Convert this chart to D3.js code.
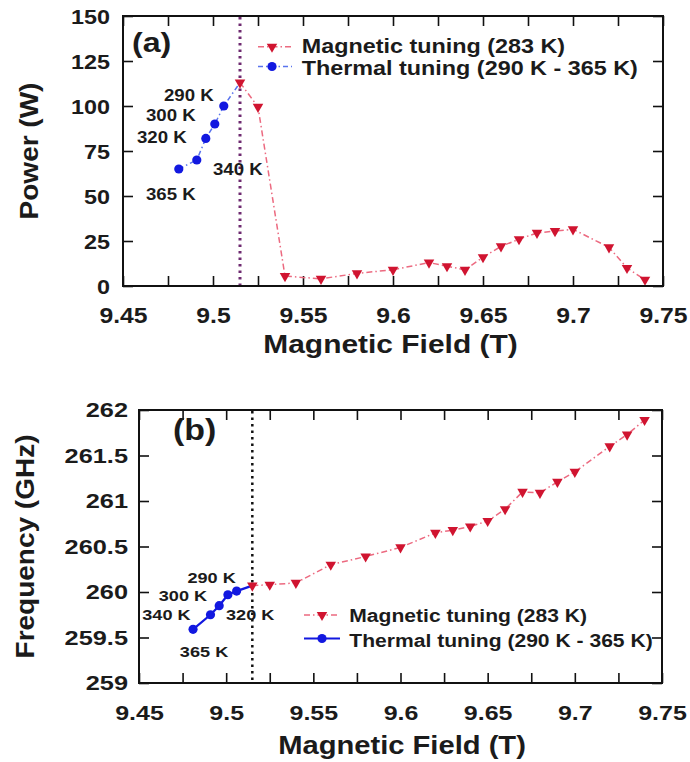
<!DOCTYPE html>
<html><head><meta charset="utf-8">
<script src="https://cdn.jsdelivr.net/npm/d3@7"></script>
<style>body{margin:0;background:#fff}svg{display:block}</style>
</head><body>
<script>
// ---------------- data ----------------
const magField = [9.515, 9.525, 9.54, 9.56, 9.58, 9.60, 9.62, 9.63, 9.64, 9.65, 9.66, 9.67, 9.68, 9.69, 9.70, 9.72, 9.73, 9.74];
const magPower = [113, 99.5, 5.5, 4, 7, 9, 13, 11, 9, 16, 22, 26, 29.5, 30.5, 31.5, 21.5, 10, 3.5];
const magFreq  = [260.07, 260.08, 260.10, 260.30, 260.39, 260.49, 260.65, 260.68, 260.72, 260.78, 260.91, 261.10, 261.09, 261.21, 261.32, 261.60, 261.73, 261.89];
const thermField = [9.481, 9.491, 9.496, 9.501, 9.506];
const thermPower = [65, 70, 82, 90, 100];
const thermFreq  = [259.59, 259.75, 259.85, 259.97, 260.01];
const thermLabels = ["365 K", "340 K", "320 K", "300 K", "290 K"];
const cutoffField = 9.515;
const xTicks = [9.45, 9.5, 9.55, 9.6, 9.65, 9.7, 9.75];
const xTickMarks = [9.45, 9.475, 9.5, 9.525, 9.55, 9.575, 9.6, 9.625, 9.65, 9.675, 9.7, 9.725, 9.75];
const powerTicks = [0, 25, 50, 75, 100, 125, 150];
const freqTicks = [259, 259.5, 260, 260.5, 261, 261.5, 262];
const legendLabels = ["Magnetic tuning (283 K)", "Thermal tuning (290 K - 365 K)"];
const panelLabels = ["(a)", "(b)"];
const xTitle = "Magnetic Field (T)";
const yTitles = ["Power (W)", "Frequency (GHz)"];

// ---------------- layout / style ----------------
const FONT = "'Liberation Sans', Arial, Helvetica, sans-serif";
const TXT = "#1b1b1b";
const RED = "#d01430", BLUE = "#1218e0";
const MAGLINE = "#ec6a80", THERMDOT = "#5a74ee";
const W = 690, H = 762;

const panels = [
  { l:123, r:663, t:16, b:286, yDomain:[0,150], yTicks:powerTicks, yFmt:d=>String(d),
    magY:magPower, thermY:thermPower, yTitle:yTitles[0], label:panelLabels[0],
    yTickFont:20.5, yTickS:1.14, yPad:13, xTickFont:21.5, xTickS:1.15, xPad:21.5,
    yTitlePos:[37.5,151], yTitleFont:25, yTitleS:1.12,
    xTitlePos:[390.5,353], xTitleFont:26.5, xTitleS:1.13,
    labelPos:[132,52], labelFont:28, labelS:1.15,
    cutColor:"#6e2a70", cutWidth:3, cutDash:"2.5,4",
    thermSolid:false,
    tLabelOff:[[-8,31],[41,15],[-44,5],[-44,-3],[-35,-5]], tLabelFont:16.5, tLabelS:1.13,
    legX0:258, legX1:292, legMark:272, legY:[46.7,66.5], legTextX:301.7, legBase:[53.3,74.5], legFont:20.5, legS:1.14 },
  { l:139, r:662, t:410, b:683, yDomain:[259,262], yTicks:freqTicks, yFmt:d=>String(d),
    magY:magFreq, thermY:thermFreq, yTitle:yTitles[1], label:panelLabels[1],
    yTickFont:19.5, yTickS:1.3, yPad:11, xTickFont:21, xTickS:1.19, xPad:22,
    yTitlePos:[33.5,546.5], yTitleFont:25, yTitleS:1.12,
    xTitlePos:[402,754], xTitleFont:26.5, xTitleS:1.1,
    labelPos:[173,440], labelFont:29, labelS:1.17,
    cutColor:"#111", cutWidth:2.5, cutDash:"2.5,4",
    thermSolid:true,
    tLabelOff:[[11,28],[-44,5],[31,14],[-45,6],[-25,-8]], tLabelFont:15.5, tLabelS:1.17,
    legX0:304, legX1:340, legMark:322, legY:[615,638.5], legTextX:349.3, legBase:[621.5,646.5], legFont:18.5, legS:1.14 }
];

const svg = d3.select("body").append("svg").attr("width", W).attr("height", H)
  .style("background", "#fff");

function stretch(sel, S) {
  sel.each(function () {
    const t = d3.select(this);
    const x = +t.attr("x") || 0, y = +t.attr("y") || 0;
    t.attr("x", null).attr("y", null)
     .attr("transform", `translate(${x},${y}) scale(${S},1)`);
  });
}

const triangle = d3.symbol().type(d3.symbolTriangle).size(48);
const circle = d3.symbol().type(d3.symbolCircle).size(66);

function drawPanel(p) {
  const x = d3.scaleLinear().domain([9.45, 9.75]).range([p.l, p.r]);
  const y = d3.scaleLinear().domain(p.yDomain).range([p.b, p.t]);
  const g = svg.append("g");
  const TL = 10;

  // inward tick marks on all four sides
  const tickStyle = s => {
    s.select(".domain").remove();
    s.selectAll("line").attr("stroke", "#111").attr("stroke-width", 1.6);
    s.selectAll("text").remove();
  };
  g.append("g").attr("transform", `translate(0,${p.b})`)
    .call(d3.axisBottom(x).tickValues(xTickMarks).tickSize(-TL).tickFormat(() => "")).call(tickStyle);
  g.append("g").attr("transform", `translate(0,${p.t})`)
    .call(d3.axisTop(x).tickValues(xTickMarks).tickSize(-TL).tickFormat(() => "")).call(tickStyle);
  g.append("g").attr("transform", `translate(${p.l},0)`)
    .call(d3.axisLeft(y).tickValues(p.yTicks).tickSize(-TL).tickFormat(() => "")).call(tickStyle);
  g.append("g").attr("transform", `translate(${p.r},0)`)
    .call(d3.axisRight(y).tickValues(p.yTicks).tickSize(-TL).tickFormat(() => "")).call(tickStyle);

  // tick labels
  const xl = g.append("g").attr("transform", `translate(0,${p.b})`)
    .call(d3.axisBottom(x).tickValues(xTicks).tickSize(0).tickPadding(p.xPad).tickFormat(d => String(d)));
  xl.select(".domain").remove();
  xl.selectAll("text").attr("font-family", FONT).attr("font-weight", "bold")
    .attr("font-size", p.xTickFont).attr("fill", TXT).call(stretch, p.xTickS);

  const yl = g.append("g").attr("transform", `translate(${p.l},0)`)
    .call(d3.axisLeft(y).tickValues(p.yTicks).tickSize(0).tickPadding(p.yPad).tickFormat(p.yFmt));
  yl.select(".domain").remove();
  yl.selectAll("text").attr("font-family", FONT).attr("font-weight", "bold")
    .attr("font-size", p.yTickFont).attr("fill", TXT).attr("dy", "0.35em").call(stretch, p.yTickS);

  // titles
  g.append("text").attr("font-family", FONT).attr("font-weight", "bold").attr("font-size", p.yTitleFont)
    .attr("fill", TXT).attr("text-anchor", "middle")
    .attr("transform", `translate(${p.yTitlePos[0]},${p.yTitlePos[1]}) rotate(-90) scale(${p.yTitleS},1)`)
    .text(p.yTitle);
  g.append("text").attr("font-family", FONT).attr("font-weight", "bold").attr("font-size", p.xTitleFont)
    .attr("fill", TXT).attr("text-anchor", "middle")
    .attr("transform", `translate(${p.xTitlePos[0]},${p.xTitlePos[1]}) scale(${p.xTitleS},1)`)
    .text(xTitle);

  // panel label
  g.append("text").attr("font-family", FONT).attr("font-weight", "bold").attr("font-size", p.labelFont)
    .attr("fill", TXT)
    .attr("transform", `translate(${p.labelPos[0]},${p.labelPos[1]}) scale(${p.labelS},1)`)
    .text(p.label);

  // cutoff vertical line
  g.append("line").attr("x1", x(cutoffField)).attr("x2", x(cutoffField))
    .attr("y1", p.t + 1).attr("y2", p.b - 1)
    .attr("stroke", p.cutColor).attr("stroke-width", p.cutWidth).attr("stroke-dasharray", p.cutDash);

  const magPts = magField.map((f, i) => ({ f, v: p.magY[i] }));
  const thermPts = thermField.map((f, i) => ({ f, v: p.thermY[i], lab: thermLabels[i] }));
  const line = d3.line().x(d => x(d.f)).y(d => y(d.v));

  // magnetic line (dash-dot)
  g.append("path").attr("d", line(magPts)).attr("fill", "none")
    .attr("stroke", MAGLINE).attr("stroke-width", 1.5).attr("stroke-dasharray", "6,3,1.5,3");
  // thermal line, joining the shared 283 K starting point
  const thermLinePts = thermPts.concat([magPts[0]]);
  if (p.thermSolid) {
    g.append("path").attr("d", line(thermLinePts)).attr("fill", "none")
      .attr("stroke", BLUE).attr("stroke-width", 2.2);
  } else {
    g.append("path").attr("d", line(thermLinePts)).attr("fill", "none")
      .attr("stroke", THERMDOT).attr("stroke-width", 1.5).attr("stroke-dasharray", "5,3,1.5,3");
  }

  // markers
  g.selectAll(".th").data(thermPts).join("path").attr("class", "th")
    .attr("d", circle).attr("fill", BLUE)
    .attr("transform", d => `translate(${x(d.f)},${y(d.v)})`);
  g.selectAll(".mg").data(magPts).join("path").attr("class", "mg")
    .attr("d", triangle).attr("fill", RED)
    .attr("transform", d => `translate(${x(d.f)},${y(d.v)}) rotate(180)`);

  // temperature labels
  g.selectAll(".tl").data(thermPts).join("text").attr("class", "tl")
    .attr("font-family", FONT).attr("font-weight", "bold").attr("font-size", p.tLabelFont)
    .attr("fill", TXT).attr("text-anchor", "middle")
    .attr("transform", (d, i) => `translate(${x(d.f) + p.tLabelOff[i][0]},${y(d.v) + p.tLabelOff[i][1]}) scale(${p.tLabelS},1)`)
    .text(d => d.lab);

  // legend
  const lg = g.append("g");
  lg.append("line").attr("x1", p.legX0).attr("x2", p.legX1).attr("y1", p.legY[0]).attr("y2", p.legY[0])
    .attr("stroke", MAGLINE).attr("stroke-width", 1.5).attr("stroke-dasharray", "6,3,1.5,3");
  lg.append("path").attr("d", triangle).attr("fill", RED)
    .attr("transform", `translate(${p.legMark},${p.legY[0]}) rotate(180)`);
  if (p.thermSolid) {
    lg.append("line").attr("x1", p.legX0).attr("x2", p.legX1).attr("y1", p.legY[1]).attr("y2", p.legY[1])
      .attr("stroke", BLUE).attr("stroke-width", 2.2);
  } else {
    lg.append("line").attr("x1", p.legX0).attr("x2", p.legX1).attr("y1", p.legY[1]).attr("y2", p.legY[1])
      .attr("stroke", THERMDOT).attr("stroke-width", 1.5).attr("stroke-dasharray", "5,3,1.5,3");
  }
  lg.append("path").attr("d", circle).attr("fill", BLUE)
    .attr("transform", `translate(${p.legMark},${p.legY[1]})`);
  legendLabels.forEach((t, i) => {
    lg.append("text").attr("font-family", FONT).attr("font-weight", "bold").attr("font-size", p.legFont)
      .attr("fill", TXT)
      .attr("transform", `translate(${p.legTextX},${p.legBase[i]}) scale(${p.legS},1)`)
      .text(t);
  });

  // border
  g.append("rect").attr("x", p.l).attr("y", p.t).attr("width", p.r - p.l).attr("height", p.b - p.t)
    .attr("fill", "none").attr("stroke", "#111").attr("stroke-width", 2);
}

panels.forEach(drawPanel);
</script>
</body></html>
